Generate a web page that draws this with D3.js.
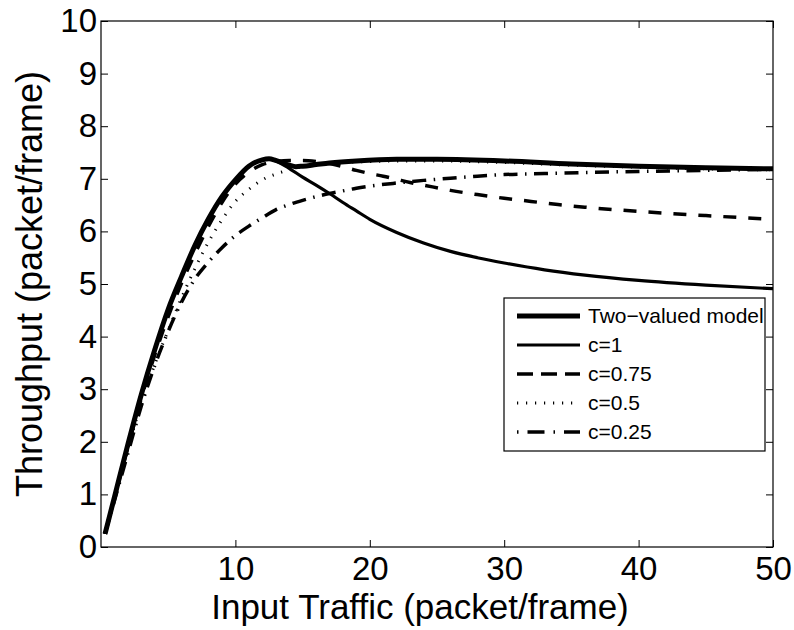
<!DOCTYPE html>
<html>
<head>
<meta charset="utf-8">
<script src="https://cdn.jsdelivr.net/npm/d3@7"></script>
<style>
  html, body { margin: 0; padding: 0; background: #fff; }
  svg { display: block; font-family: "Liberation Sans", Arial, Helvetica, sans-serif; }
</style>
</head>
<body>
<svg id="chart" width="794" height="630"></svg>
<script>
// Throughput vs. input traffic for the two-valued model and the c-parameter family
const xTicks = [10, 20, 30, 40, 50];
const yTicks = [0, 1, 2, 3, 4, 5, 6, 7, 8, 9, 10];

const twoValued = [
  [0.3, 0.25], [1, 0.95], [2, 1.95], [3, 2.9], [4, 3.75], [5, 4.52], [6, 5.15],
  [7, 5.74], [8, 6.24], [9, 6.66], [10, 6.98], [11, 7.24], [12, 7.36], [12.5, 7.38],
  [13, 7.35], [14, 7.26], [14.5, 7.23], [15, 7.24], [16, 7.27], [17, 7.30], [19, 7.34],
  [22, 7.37], [25, 7.37], [30, 7.34], [35, 7.28], [40, 7.24], [45, 7.21], [50, 7.19]
];
const c1 = [
  [0.3, 0.25], [1, 0.95], [2, 1.95], [3, 2.9], [4, 3.75], [5, 4.52], [6, 5.15],
  [7, 5.74], [8, 6.24], [9, 6.66], [10, 6.98], [11, 7.24], [12, 7.36], [12.5, 7.38],
  [13, 7.34], [14, 7.2], [15, 7.03], [16, 6.88], [17, 6.72], [18, 6.55], [19, 6.39],
  [20, 6.23], [22, 5.98], [24, 5.78], [26, 5.62], [28, 5.5], [30, 5.4], [33, 5.27],
  [36, 5.17], [40, 5.07], [45, 4.98], [50, 4.91]
];
const c075 = [
  [0.3, 0.25], [1, 0.93], [2, 1.9], [3, 2.83], [4, 3.65], [5, 4.38], [6, 5.02],
  [7, 5.58], [8, 6.1], [9, 6.55], [10, 6.9], [11, 7.13], [12, 7.27], [13, 7.33],
  [14, 7.35], [15, 7.35], [16, 7.33], [17, 7.29], [18, 7.23], [19, 7.16], [20, 7.1],
  [21, 7.05], [22, 6.99], [23, 6.93], [24, 6.88], [26, 6.78], [28, 6.7], [30, 6.63],
  [32, 6.57], [34, 6.51], [36, 6.46], [40, 6.38], [45, 6.3], [50, 6.23]
];
const c05 = [
  [0.3, 0.25], [1, 0.92], [2, 1.86], [3, 2.74], [4, 3.47], [5, 4.12], [6, 4.74],
  [7, 5.3], [8, 5.8], [9, 6.22], [10, 6.57], [11, 6.8], [12, 6.98], [13, 7.09],
  [14, 7.17], [15, 7.23], [16, 7.27], [17, 7.29], [18, 7.31], [20, 7.33], [22, 7.34],
  [25, 7.34], [30, 7.31], [35, 7.26], [40, 7.22], [45, 7.19], [50, 7.17]
];
const c025 = [
  [0.3, 0.25], [1, 0.88], [2, 1.78], [3, 2.68], [4, 3.45], [5, 4.1], [6, 4.66],
  [7, 5.1], [8, 5.42], [9, 5.69], [10, 5.92], [11, 6.1], [12, 6.26], [13, 6.41],
  [14, 6.51], [15, 6.59], [16, 6.66], [17, 6.72], [18, 6.77], [19, 6.82], [20, 6.86],
  [22, 6.92], [24, 6.97], [26, 7.01], [28, 7.05], [30, 7.08], [33, 7.1], [36, 7.12],
  [40, 7.14], [45, 7.16], [50, 7.18]
];

const seriesNames = ["Two\u2212valued model", "c=1", "c=0.75", "c=0.5", "c=0.25"];
const seriesData = [twoValued, c1, c075, c05, c025];
const seriesStyle = [
  { width: 5, dash: null, legendDash: null },
  { width: 3.2, dash: null, legendDash: null },
  { width: 3.5, dash: "13,12", legendDash: "16,8" },
  { width: 3, dash: "1.2,7.8", legendDash: "1.2,7.8" },
  { width: 3.5, dash: "14,7.5,1.5,7.5", legendDash: "1.5,9,17,9" }
];

const svg = d3.select("#chart");
const margin = { left: 101, right: 21, top: 21, bottom: 83 };
const W = 794, H = 630;
const x = d3.scaleLinear().domain([0, 50]).range([margin.left, W - margin.right]);
const y = d3.scaleLinear().domain([0, 10]).range([H - margin.bottom, margin.top]);

// plot frame
svg.append("rect")
  .attr("x", x(0)).attr("y", y(10))
  .attr("width", x(50) - x(0)).attr("height", y(0) - y(10))
  .attr("fill", "#fff").attr("stroke", "#000").attr("stroke-width", 1.2);

const tickLen = 7;
// bottom axis with inward ticks, labels below
const xAxis = d3.axisBottom(x).tickValues(xTicks).tickSizeInner(-tickLen).tickSizeOuter(0).tickPadding(10);
const gx = svg.append("g").attr("transform", `translate(0,${y(0)})`).call(xAxis);
// top mirror ticks
const gxt = svg.append("g").attr("transform", `translate(0,${y(10)})`)
  .call(d3.axisTop(x).tickValues(xTicks).tickSizeInner(-tickLen).tickSizeOuter(0).tickFormat(""));
// left axis
const yAxis = d3.axisLeft(y).tickValues(yTicks).tickSizeInner(-tickLen).tickSizeOuter(0).tickPadding(4);
const gy = svg.append("g").attr("transform", `translate(${x(0)},0)`).call(yAxis);
// right mirror ticks
const gyr = svg.append("g").attr("transform", `translate(${x(50)},0)`)
  .call(d3.axisRight(y).tickValues(yTicks).tickSizeInner(-tickLen).tickSizeOuter(0).tickFormat(""));

[gx, gxt, gy, gyr].forEach(g => {
  g.select(".domain").remove();
  g.selectAll(".tick line").attr("stroke", "#000").attr("stroke-width", 1);
  g.selectAll("text").attr("fill", "#000").style("font-size", "33px").style("font-family", "Liberation Sans, Arial, sans-serif");
});
gx.selectAll("text").attr("dy", "0.71em");

// curves
const line = d3.line().x(d => x(d[0])).y(d => y(d[1])).curve(d3.curveMonotoneX);
const drawOrder = [4, 3, 2, 1, 0];
drawOrder.forEach(i => {
  svg.append("path")
    .datum(seriesData[i])
    .attr("d", line)
    .attr("fill", "none")
    .attr("stroke", "#000")
    .attr("stroke-width", seriesStyle[i].width)
    .attr("stroke-linejoin", "round")
    .attr("stroke-dasharray", seriesStyle[i].dash);
});

// axis titles
svg.append("text")
  .attr("x", 420).attr("y", 619)
  .attr("text-anchor", "middle")
  .style("font-size", "35px")
  .text("Input Traffic (packet/frame)");
svg.append("text")
  .attr("transform", `translate(42,${(y(0) + y(10)) / 2}) rotate(-90)`)
  .attr("text-anchor", "middle")
  .style("font-size", "36px")
  .text("Throughput (packet/frame)");

// legend
const lg = svg.append("g");
lg.append("rect")
  .attr("x", 504).attr("y", 298).attr("width", 261).attr("height", 153)
  .attr("fill", "#fff").attr("stroke", "#000").attr("stroke-width", 1.2);
seriesNames.forEach((name, i) => {
  const ry = 316 + i * 29;
  lg.append("line")
    .attr("x1", 517).attr("x2", 580).attr("y1", ry).attr("y2", ry)
    .attr("stroke", "#000")
    .attr("stroke-width", seriesStyle[i].width)
    .attr("stroke-dasharray", seriesStyle[i].legendDash);
  lg.append("text")
    .attr("x", 588).attr("y", ry).attr("dy", "0.35em")
    .style("font-size", "21px")
    .text(name);
});
</script>
</body>
</html>
